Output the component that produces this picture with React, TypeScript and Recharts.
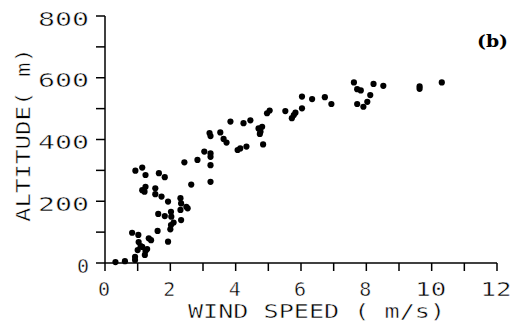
import React from 'react';
import { ScatterChart, Scatter, XAxis, YAxis, Label } from 'recharts';

const windSpeed = [
  0.32, 0.61, 0.92, 0.92, 0.83, 1.02, 1.03, 1.09, 1.0, 1.14,
  1.24, 1.22, 1.29, 1.34, 1.41, 1.61, 1.93, 1.63, 1.83, 2.02,
  2.03, 2.1, 2.02, 2.0, 2.33, 2.31, 2.33, 2.31, 2.49, 2.53,
  1.93, 1.73, 1.54, 1.54, 1.14, 1.21, 1.24, 0.93, 1.14, 1.24,
  1.65, 1.83, 2.43, 2.64, 2.83, 3.04, 3.2, 3.23, 3.23, 3.23,
  3.23, 3.23, 3.53, 3.63, 3.72, 3.84, 4.06, 4.14, 4.33, 4.24,
  4.45, 4.7, 4.76, 4.74, 4.81, 4.84, 4.96, 5.04, 5.52, 5.72,
  5.78, 5.83, 6.03, 6.03, 6.34, 6.73, 6.93, 7.62, 7.72, 7.83,
  8.22, 8.52, 8.12, 8.03, 7.72, 7.91, 9.63, 9.63, 10.31,
];
const altitude = [
  3, 6, 10, 20, 98, 91, 68, 55, 42, 52,
  39, 26, 45, 80, 74, 104, 69, 159, 152, 166,
  150, 131, 123, 109, 139, 210, 193, 172, 182, 177,
  199, 215, 223, 242, 236, 231, 247, 299, 309, 285,
  291, 278, 326, 254, 334, 361, 421, 411, 355, 344,
  317, 263, 423, 402, 390, 458, 366, 371, 377, 453,
  462, 436, 425, 418, 441, 384, 485, 494, 492, 469,
  479, 487, 539, 501, 531, 537, 515, 585, 563, 559,
  580, 574, 544, 522, 515, 506, 572, 564, 585,
];

const xTicks = [0, 1, 2, 3, 4, 5, 6, 7, 8, 9, 10, 11, 12];
const yTicks = [0, 100, 200, 300, 400, 500, 600, 700, 800];
const xLabelEvery = 2;
const yLabelEvery = 200;

const xTitle = 'WIND SPEED ( m/s)';
const yTitle = 'ALTITUDE( m)';
const panelTag = '(b)';

const data = windSpeed.map((v, i) => ({ v, alt: altitude[i] }));

const FONT = '"DejaVu Sans Mono", "Liberation Mono", monospace';
const thin: any = { stroke: '#fff', strokeWidth: 0.45 };

const XTick = (props: any) => {
  const { x, y, payload } = props;
  const val = payload.value;
  if (val % xLabelEvery !== 0) return <g />;
  const s = String(val);
  const extra: any = s.length > 1 ? { textLength: 31, lengthAdjust: 'spacingAndGlyphs' } : {};
  return (
    <text x={x - 1} y={y + 23} textAnchor="middle" fontFamily={FONT} fontSize={20} fill="#000" {...thin} {...extra}>
      {s}
    </text>
  );
};

const YTick = (props: any) => {
  const { y, payload } = props;
  const val = payload.value;
  if (val % yLabelEvery !== 0) return <g />;
  const s = String(val);
  const extra: any = s.length > 1 ? { textLength: 51, lengthAdjust: 'spacingAndGlyphs' } : {};
  return (
    <text x={89} y={y + 9.5} textAnchor="end" fontFamily={FONT} fontSize={20} fill="#000" {...thin} {...extra}>
      {s}
    </text>
  );
};

const Dot = (props: any) => {
  const { cx, cy } = props;
  return <circle cx={cx} cy={cy} r={3.1} fill="#000" />;
};

export default function App() {
  return (
    <div style={{ position: 'absolute', left: 0, top: 0, background: '#fff' }}>
      <ScatterChart width={515} height={326} margin={{ top: 16, right: 18, bottom: 0, left: 0 }}>
        <XAxis
          type="number"
          dataKey="v"
          domain={[0, 12]}
          ticks={xTicks}
          interval={0}
          height={63}
          tickSize={8}
          axisLine={{ stroke: '#000', strokeWidth: 1.5 }}
          tickLine={{ stroke: '#000', strokeWidth: 1.5 }}
          tick={<XTick />}
        >
          <Label
            content={() => (
              <g>
                <text x={188} y={318} textAnchor="start" fontFamily={FONT} fontSize={20} fill="#000" {...thin} textLength={257} lengthAdjust="spacingAndGlyphs">
                  {xTitle}
                </text>
                <text x={477} y={47} textAnchor="start" fontFamily='"DejaVu Serif", "Liberation Serif", serif' fontWeight="bold" fontSize={17} fill="#000" textLength={31} lengthAdjust="spacingAndGlyphs">
                  {panelTag}
                </text>
              </g>
            )}
          />
        </XAxis>
        <YAxis
          type="number"
          dataKey="alt"
          domain={[0, 800]}
          ticks={yTicks}
          interval={0}
          width={105}
          tickSize={9}
          axisLine={{ stroke: '#000', strokeWidth: 1.5 }}
          tickLine={{ stroke: '#000', strokeWidth: 1.5 }}
          tick={<YTick />}
        >
          <Label
            content={() => (
              <text
                x={30}
                y={135}
                textAnchor="middle"
                transform="rotate(-90, 30, 135)"
                fontFamily={FONT}
                fontSize={20}
                fill="#000"
                {...thin}
                textLength={174}
                lengthAdjust="spacingAndGlyphs"
              >
                {yTitle}
              </text>
            )}
          />
        </YAxis>
        <Scatter data={data} fill="#000" shape={<Dot />} isAnimationActive={false} />
      </ScatterChart>
    </div>
  );
}
